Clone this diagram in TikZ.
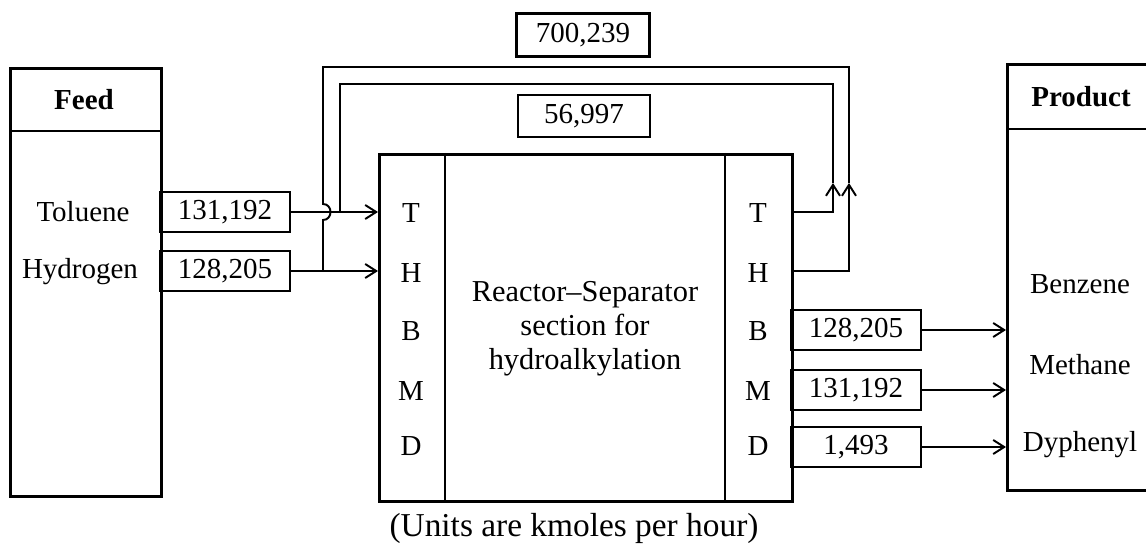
\documentclass[tikz,border=0pt]{standalone}
\usepackage{fontspec}
\setmainfont{Liberation Serif}
\usetikzlibrary{arrows.meta, positioning}

\begin{document}
\begin{tikzpicture}[x=0.02cm, y=-0.02cm,
      every node/.style={font=\fontsize{16.5}{19.4}\selectfont, inner sep=0pt},
      >={Straight Barb[length=2.2mm, width=2.8mm]},
      blk/.style={draw, line width=1.6pt, anchor=north west},
      numbox/.style={draw, line width=1.6pt, minimum width=2.6cm,
                     minimum height=0.8cm},
      flow/.style={->, line width=1.1pt},
      pipe/.style={line width=1.1pt}]
    \clip (0,0) rectangle (1146,547);

    % main blocks
    \node[blk, minimum width=3.02cm, minimum height=8.56cm] (feed) at (9,67) {};
    \node[blk, minimum width=8.26cm, minimum height=6.94cm] (reactor) at (378,153) {};
    \node[blk, minimum width=3.2cm, minimum height=8.52cm] (product) at (1006,63) {};
    \draw[line width=1.2pt] (feed.west |- 0,131) -- (feed.east |- 0,131);
    \draw[line width=1.2pt] (product.west |- 0,129) -- (product.east |- 0,129);
    \draw[line width=0.9pt] (445,0 |- reactor.north) -- (445,0 |- reactor.south);
    \draw[line width=0.9pt] (725,0 |- reactor.north) -- (725,0 |- reactor.south);

    \node[font=\fontsize{16.5}{19.4}\selectfont\bfseries] (feedT) at (84,100) {Feed};
    \node (tol) at (83,212) {Toluene};
    \node (hyd) at (80,272) {Hydrogen};
    \node[font=\fontsize{16.5}{19.4}\selectfont\bfseries] (prodT) at (1081,97) {Product};
    \node (benz) at (1080,284) {Benzene};
    \node (meth) at (1080,365) {Methane};
    \node (dyph) at (1080,445) {Dyphenyl};

    \node[align=center, font=\fontsize{17.3}{19.4}\selectfont] (rsec) at (585,329)
      {Reactor--Separator\\section for\\hydroalkylation};

    % stream letters
    \node (lT) at (411,213) {T};
    \node (lH) at (411,273) {H};
    \node (lB) at (411,331) {B};
    \node (lM) at (411,391) {M};
    \node (lD) at (411,446) {D};
    \node (rT) at (758,213) {T};
    \node (rH) at (758,273) {H};
    \node (rB) at (758,331) {B};
    \node (rM) at (758,391) {M};
    \node (rD) at (758,446) {D};

    % flow rates
    \node[numbox] (tolIn) at (225,212) {131,192};
    \node[numbox] (hydIn) at (225,271) {128,205};
    \node[numbox] (benzOut) at (856,330) {128,205};
    \node[numbox] (methOut) at (856,390) {131,192};
    \node[numbox] (dyphOut) at (856,447) {1,493};
    \node[numbox, minimum width=2.66cm, minimum height=0.86cm] (hRec) at (583,35) {700,239};
    \node[numbox, minimum width=2.64cm, minimum height=0.84cm] (tRec) at (584,116) {56,997};

    \draw[flow] (tolIn.east) -- (tolIn.east -| reactor.west);
    \draw[flow] (hydIn.east) -- (hydIn.east -| reactor.west);
    \draw[flow] (benzOut.east) -- (benzOut.east -| product.west);
    \draw[flow] (methOut.east) -- (methOut.east -| product.west);
    \draw[flow] (dyphOut.east) -- (dyphOut.east -| product.west);

    % recycle loops
    \coordinate (tUp) at (833,183);
    \coordinate (hUp) at (849,183);
    \draw[flow] (reactor.east |- tolIn.east) -| (tUp);
    \draw[pipe] (tUp) -- (833,84) -- (340,84) -- (340,0 |- tolIn.east);
    \draw[flow] (reactor.east |- hydIn.east) -| (hUp);
    \draw[pipe] (hUp) -- (849,67) -- (323,67) -- (323,204)
      .. controls (333,204) and (333,220) .. (323,220) -- (323,0 |- hydIn.east);

    \node[font=\fontsize{19}{22}\selectfont] (units) at (574,528) {(Units are kmoles per hour)};
  \end{tikzpicture}
\end{document}
